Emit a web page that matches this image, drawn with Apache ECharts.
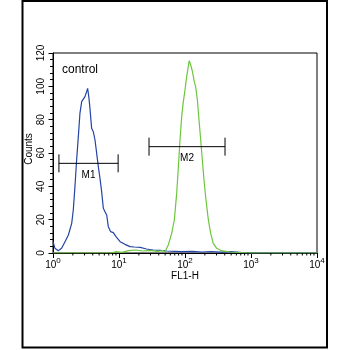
<!DOCTYPE html>
<html><head><meta charset="utf-8">
<script src="https://cdn.jsdelivr.net/npm/echarts@6/dist/echarts.min.js"></script>
<style>html,body{margin:0;padding:0;background:#fff}#c{width:350px;height:350px}</style>
</head><body><div id="c"></div><script>
// FL1-H histogram, control (blue)
const controlFL1 = [1, 1.07, 1.2, 1.35, 1.52, 1.71, 1.92, 2.03, 2.15, 2.28, 2.42, 2.56, 2.72, 2.88, 3.05, 3.23, 3.35, 3.51, 3.63, 3.85, 4.08, 4.33, 4.59, 4.86, 5.15, 5.46, 5.79, 6.14, 6.51, 6.89, 7.48, 8.2, 9.0, 10.4, 12.3, 14.7, 17, 21, 26, 33, 42, 53, 70, 90, 130, 180, 250, 350, 500, 680, 800, 10000];
const controlCounts = [6.8, 2.8, 1.4, 2.8, 6.8, 10.8, 17.8, 25.8, 39.8, 55.8, 69.8, 83.8, 90.8, 91.8, 93.8, 96.8, 98.8, 92.8, 86.8, 74.8, 72.8, 67.8, 59.8, 51.8, 44.8, 36.8, 26.8, 24.8, 22.8, 15.8, 12.8, 12.2, 9.8, 6.8, 5.2, 3.8, 3.6, 3.4, 2.4, 1.8, 1.6, 1.2, 1.0, 0.8, 1.0, 0.6, 0.9, 0.5, 0.8, 0.4, 0, 0];
// sample (green)
const sampleFL1 = [1, 7.8, 9, 11, 14, 18, 23, 30, 38, 46, 49.8, 55.8, 62.8, 68.9, 74.8, 79.4, 84, 89.1, 94.3, 100, 106, 112, 116, 122, 128, 134, 138, 145, 154, 163, 173, 183, 194, 208, 226, 245, 268, 302, 356, 480, 680, 900, 10000];
const sampleCounts = [0, 0, 0.8, 0.4, 1.4, 1.8, 1.2, 1.6, 1.0, 1.4, 0.8, 4.8, 11.8, 19.8, 35.8, 51.8, 67.8, 81.8, 90.8, 97.8, 105.8, 111.8, 115.4, 112.8, 109.8, 105.8, 102.8, 99.8, 91.8, 79.8, 67.8, 55.8, 43.8, 31.8, 19.8, 11.8, 5.8, 2.8, 1.4, 0.6, 0.3, 0, 0];
// gate markers
const markerNames = ['M1', 'M2'];
const markerFrom = [1.23, 28.5];
const markerTo = [9.7, 404];
const markerLevel = [53.8, 63.8];
// axes
const yTicks = [0, 20, 40, 60, 80, 100, 120];
const xMinorTicks = [];
[1, 10, 100, 1000].forEach(d => { for (let k = 2; k <= 9; k++) xMinorTicks.push(k * d); });

const FONT = 'Liberation Sans, Arial, sans-serif';
const chart = echarts.init(document.getElementById('c'));
chart.setOption({
  animation: false,
  backgroundColor: '#fff',
  grid: { left: 53, right: 33, top: 53, bottom: 97, show: true, borderColor: '#000', borderWidth: 1, containLabel: false, outerBoundsMode: 'none' },
  graphic: [
    { type: 'rect', shape: { x: 22.5, y: 1, width: 304.5, height: 346.5 }, style: { fill: 'none', stroke: '#000', lineWidth: 2 }, silent: true },
    { type: 'text', left: 62, top: 64, style: { text: 'control', font: '12px ' + FONT, fill: '#000' } }
  ],
  xAxis: {
    type: 'log', logBase: 10, min: 1, max: 10000,
    name: 'FL1-H', nameLocation: 'middle', nameGap: 18, nameMoveOverlap: false,
    nameTextStyle: { fontFamily: FONT, fontSize: 10, color: '#000' },
    axisLine: { show: true, lineStyle: { color: '#000', width: 1 } },
    axisTick: { show: true, length: 5, lineStyle: { color: '#000' } },
    splitLine: { show: false },
    axisLabel: {
      margin: 3, color: '#000', fontFamily: FONT, fontSize: 10,
      formatter: v => '{b|10}{s|' + Math.round(Math.log10(v)) + '}',
      rich: { b: { fontFamily: FONT, fontSize: 10, color: '#000', padding: [4, 0, 0, 0] }, s: { fontFamily: FONT, fontSize: 8, color: '#000', padding: [0, 0, 4, 0] } }
    }
  },
  yAxis: {
    type: 'value', min: 0, max: 120, interval: 20,
    name: 'Counts', nameLocation: 'middle', nameGap: 19, nameRotate: 90, nameMoveOverlap: false,
    nameTextStyle: { fontFamily: FONT, fontSize: 10, color: '#000', padding: [0, 0, 0, 8] },
    axisLine: { show: true, lineStyle: { color: '#000', width: 1 } },
    axisTick: { show: true, length: 4.5, lineStyle: { color: '#000' } },
    minorTick: { show: true, splitNumber: 5, length: 3, lineStyle: { color: '#000' } },
    splitLine: { show: false },
    axisLabel: { rotate: 90, margin: 7, color: '#000', fontFamily: FONT, fontSize: 10, formatter: v => yTicks.includes(v) ? String(v) : '' }
  },
  series: [
    {
      type: 'line', name: 'control', showSymbol: false, symbol: 'none', z: 3,
      lineStyle: { color: '#2444a6', width: 1.2 },
      data: controlFL1.map((x, i) => [x, controlCounts[i]])
    },
    {
      type: 'line', name: 'sample', showSymbol: false, symbol: 'none', z: 4,
      lineStyle: { color: '#6cc63c', width: 1.2 },
      data: sampleFL1.map((x, i) => [x, sampleCounts[i]])
    },
    {
      type: 'custom', name: 'minorX', z: 5, silent: true,
      data: xMinorTicks.map(v => [v, 0]),
      renderItem: (params, api) => {
        const p = api.coord([api.value(0), 0]);
        return { type: 'line', shape: { x1: p[0], y1: p[1], x2: p[0], y2: p[1] + 2.5 }, style: { stroke: '#000', lineWidth: 1 } };
      }
    },
    {
      type: 'custom', name: 'gates', z: 6, silent: true,
      data: markerNames.map((n, i) => [markerFrom[i], markerLevel[i], markerTo[i]]),
      renderItem: (params, api) => {
        const a = api.coord([api.value(0), api.value(1)]);
        const b = api.coord([api.value(2), api.value(1)]);
        const h = 9;
        const st = { stroke: '#000', lineWidth: 1 };
        return { type: 'group', children: [
          { type: 'line', shape: { x1: a[0], y1: a[1], x2: b[0], y2: b[1] }, style: st },
          { type: 'line', shape: { x1: a[0], y1: a[1] - h, x2: a[0], y2: a[1] + h }, style: st },
          { type: 'line', shape: { x1: b[0], y1: b[1] - h, x2: b[0], y2: b[1] + h }, style: st },
          { type: 'text', x: (a[0] + b[0]) / 2, y: a[1] + 7, style: { text: markerNames[params.dataIndex], font: '10px ' + FONT, fill: '#000', align: 'center', verticalAlign: 'top' } }
        ] };
      }
    }
  ]
});
</script></body></html>
